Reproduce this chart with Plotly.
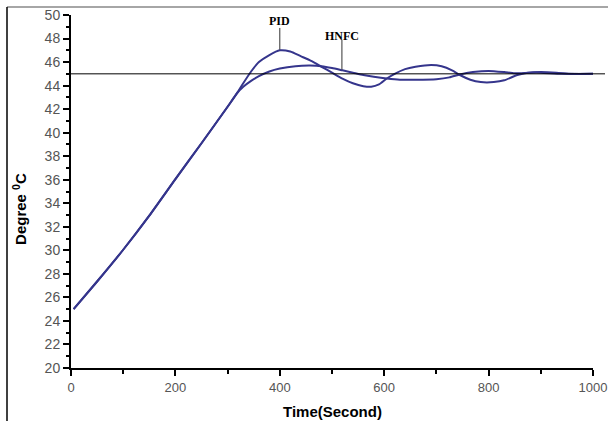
import plotly.graph_objects as go

# shared rise, then the two controller responses
RISE_T = [5, 50, 100, 150, 200, 250, 300, 318]
RISE_Y = [25.0, 27.35, 30.05, 32.95, 36.05, 39.1, 42.2, 43.35]

PID_T = [330, 345, 360, 380, 400, 420, 440, 460, 480, 500, 520, 540, 560, 575, 590,
         605, 620, 640, 660, 690, 710, 730, 745, 765, 785, 810, 830, 855, 875, 900,
         930, 960, 1000]
PID_Y = [44.2, 45.2, 46.0, 46.6, 47.0, 46.9, 46.5, 46.1, 45.6, 45.1, 44.6, 44.2, 43.95,
         43.9, 44.1, 44.6, 45.0, 45.4, 45.6, 45.75, 45.65, 45.3, 44.9, 44.5, 44.3, 44.3,
         44.45, 44.9, 45.1, 45.15, 45.1, 45.0, 45.0]

HNFC_T = [330, 345, 360, 380, 400, 430, 458, 480, 500, 520, 540, 560, 580, 605, 630,
          660, 700, 725, 745, 770, 800, 830, 850, 880, 900, 940, 1000]
HNFC_Y = [43.9, 44.4, 44.8, 45.2, 45.45, 45.65, 45.7, 45.65, 45.5, 45.3, 45.1, 44.9,
          44.75, 44.6, 44.5, 44.5, 44.55, 44.7, 44.95, 45.15, 45.25, 45.15, 45.05, 45.1,
          45.1, 45.0, 45.0]

SETPOINT = 45
X_RANGE = [0, 1000]
Y_RANGE = [20, 50]

LINE_COLOR = "#35358c"
AXIS_FONT = dict(family="Arial, Liberation Sans, sans-serif", size=14, color="#555")
X_TICK_FONT = dict(family="Arial, Liberation Sans, sans-serif", size=13, color="#555")
LABEL_FONT = dict(family="Times New Roman, Liberation Serif, serif", size=12, color="black")
TITLE_FONT = dict(family="Arial, Liberation Sans, sans-serif", size=15, color="black")

fig = go.Figure()
for name, ts, ys in [("PID", PID_T, PID_Y), ("HNFC", HNFC_T, HNFC_Y)]:
    fig.add_trace(go.Scatter(
        x=RISE_T + ts,
        y=RISE_Y + ys,
        mode="lines",
        name=name,
        line=dict(color=LINE_COLOR, width=2, shape="spline", smoothing=0.6),
    ))


def frac_y(v):
    return (v - Y_RANGE[0]) / (Y_RANGE[1] - Y_RANGE[0])


shapes = [
    # setpoint line runs a little past the axis end
    dict(type="line", xref="paper", yref="paper", x0=0, x1=1.023,
         y0=frac_y(SETPOINT), y1=frac_y(SETPOINT), line=dict(color="black", width=1)),
    # label pointers
    dict(type="line", xref="x", yref="y", x0=400, x1=400, y0=47.05, y1=48.9,
         line=dict(color="#333", width=1)),
    dict(type="line", xref="x", yref="y", x0=519, x1=519, y0=45.35, y1=47.9,
         line=dict(color="#333", width=1)),
    # outer frame pieces
    dict(type="line", xref="paper", yref="paper", x0=-0.1226, x1=1.03, y0=1.0227, y1=1.0227,
         line=dict(color="#888", width=1.5)),
    dict(type="line", xref="paper", yref="paper", x0=-0.1226, x1=-0.1226, y0=1.0227, y1=-0.16,
         line=dict(color="black", width=1.5)),
]

annotations = [
    dict(x=400, y=49.45, xref="x", yref="y", text="<b>PID</b>", showarrow=False, font=LABEL_FONT),
    dict(x=519, y=48.25, xref="x", yref="y", text="<b>HNFC</b>", showarrow=False, font=LABEL_FONT),
    dict(x=-0.1, y=0.45, xref="paper", yref="paper", textangle=-90, showarrow=False,
         xanchor="center", yanchor="middle",
         text="<b>Degree <sup>0</sup>C</b>", font=TITLE_FONT),
    dict(x=0.5, y=-0.122, xref="paper", yref="paper", showarrow=False,
         xanchor="center", yanchor="middle",
         text="<b>Time(Second)</b>", font=TITLE_FONT),
]

fig.update_layout(
    width=608,
    height=421,
    margin=dict(l=71, r=15, t=15, b=53),
    plot_bgcolor="white",
    paper_bgcolor="white",
    showlegend=False,
    shapes=shapes,
    annotations=annotations,
)
fig.update_xaxes(
    range=X_RANGE, tickvals=[0, 200, 400, 600, 800, 1000], showgrid=False, zeroline=False,
    automargin=False, ticklabeloverflow="allow", showline=True, linecolor="black", linewidth=2,
    ticks="outside", ticklen=6, tickwidth=2, tickcolor="black", tickfont=X_TICK_FONT,
    minor=dict(tickvals=[100, 300, 500, 700, 900], ticks="outside", ticklen=4,
               tickwidth=2, tickcolor="black", showgrid=False),
)
fig.update_yaxes(
    range=Y_RANGE, dtick=2, showgrid=False, zeroline=False,
    automargin=False, ticklabeloverflow="allow", showline=True, linecolor="black", linewidth=2,
    ticks="outside", ticklen=6, tickwidth=2, tickcolor="black", tickfont=AXIS_FONT,
    minor=dict(dtick=1, ticks="outside", ticklen=3, tickwidth=1.5, tickcolor="black",
               showgrid=False),
)

# drop the default 8px page margin so the figure fills the window exactly
fig.write_html("out.html", config={"displayModeBar": False},
               post_script="document.body.style.margin = '0';")
